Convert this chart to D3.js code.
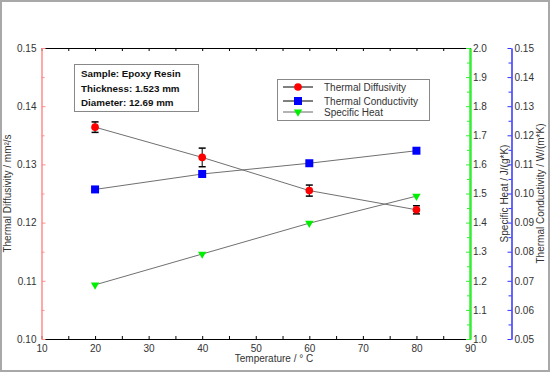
<!DOCTYPE html>
<html><head><meta charset="utf-8">
<script src="https://cdn.jsdelivr.net/npm/d3@7"></script>
<style>
body{margin:0;background:#fff;}
svg{display:block;font-family:"Liberation Sans",Arial,sans-serif;}
</style></head>
<body>
<svg id="c" width="551" height="373"></svg>
<script>
const temps = [20, 40, 60, 80];
const diffusivity = [0.1364, 0.1312, 0.1255, 0.1222];
const diffusivityErr = [0.0009, 0.0016, 0.00095, 0.0007];
const conductivity = [0.1014, 0.1067, 0.1104, 0.1147];
const specificHeat = [1.186, 1.292, 1.398, 1.491];
const seriesNames = ["Thermal Diffusivity", "Thermal Conductivity", "Specific Heat"];
const sampleInfo = ["Sample: Epoxy Resin", "Thickness: 1.523 mm", "Diameter: 12.69 mm"];
const xTicks = [10, 20, 30, 40, 50, 60, 70, 80, 90];
const xMinor = [15, 25, 35, 45, 55, 65, 75, 85];
const yLeftTicks = [0.10, 0.11, 0.12, 0.13, 0.14, 0.15];
const yLeftMinor = [0.105, 0.115, 0.125, 0.135, 0.145];
const yGreenTicks = [1.0, 1.1, 1.2, 1.3, 1.4, 1.5, 1.6, 1.7, 1.8, 1.9, 2.0];
const yGreenMinor = [1.05, 1.15, 1.25, 1.35, 1.45, 1.55, 1.65, 1.75, 1.85, 1.95];
const yBlueTicks = [0.05, 0.06, 0.07, 0.08, 0.09, 0.10, 0.11, 0.12, 0.13, 0.14, 0.15];
const yBlueMinor = [0.055, 0.065, 0.075, 0.085, 0.095, 0.105, 0.115, 0.125, 0.135, 0.145];

const L = 41.5, R = 470, T = 48, B = 339, BX = 511.5;
const svg = d3.select("#c");
const x = d3.scaleLinear().domain([10, 90]).range([L, R]);
const yL = d3.scaleLinear().domain([0.10, 0.15]).range([B, T]);
const yG = d3.scaleLinear().domain([1.0, 2.0]).range([B, T]);
const yB = d3.scaleLinear().domain([0.05, 0.15]).range([B, T]);

svg.append("rect").attr("x", 1).attr("y", 1).attr("width", 548).attr("height", 370)
  .attr("fill", "#fff").attr("stroke", "#a8a8a8").attr("stroke-width", 2);

function styleAxis(g, color, width) {
  g.selectAll("path.domain").attr("stroke", color).attr("stroke-width", width || 1);
  g.selectAll(".tick line").attr("stroke", color);
  g.selectAll(".tick text").attr("fill", "#333").attr("font-size", 10).attr("font-family", "Liberation Sans, Arial, sans-serif");
}

// top border
const gTop = svg.append("g").attr("transform", `translate(0,${T})`)
  .call(d3.axisTop(x).tickValues(xTicks.concat(xMinor)).tickSize(-3).tickSizeOuter(0).tickFormat(""));
styleAxis(gTop, "#000");
// bottom axis
const gBot = svg.append("g").attr("transform", `translate(0,${B})`)
  .call(d3.axisBottom(x).tickValues(xTicks).tickSize(-3).tickSizeOuter(0).tickPadding(6).tickFormat(d3.format("d")));
styleAxis(gBot, "#000");
const gBotMinor = svg.append("g").attr("transform", `translate(0,${B})`)
  .call(d3.axisBottom(x).tickValues(xMinor).tickSize(-3).tickSizeOuter(0).tickFormat(""));
styleAxis(gBotMinor, "#000");
gBotMinor.select("path.domain").remove();

// left axis
const gLeft = svg.append("g").attr("transform", `translate(${L},0)`)
  .call(d3.axisLeft(yL).tickValues(yLeftTicks).tickSize(-4).tickSizeOuter(0).tickPadding(5).tickFormat(d3.format(".2f")));
styleAxis(gLeft, "#ff8c8c");
const gLeftMinor = svg.append("g").attr("transform", `translate(${L},0)`)
  .call(d3.axisLeft(yL).tickValues(yLeftMinor).tickSize(-3).tickSizeOuter(0).tickFormat(""));
styleAxis(gLeftMinor, "#ff8c8c");

// green axis
const gGreen = svg.append("g").attr("transform", `translate(${R},0)`)
  .call(d3.axisRight(yG).tickValues(yGreenTicks).tickSize(-4).tickSizeOuter(0).tickPadding(3).tickFormat(d3.format(".1f")));
styleAxis(gGreen, "#33ee33", 2);
const gGreenMinor = svg.append("g").attr("transform", `translate(${R},0)`)
  .call(d3.axisRight(yG).tickValues(yGreenMinor).tickSize(-3).tickSizeOuter(0).tickFormat(""));
styleAxis(gGreenMinor, "#33ee33", 2);

// blue axis
const gBlue = svg.append("g").attr("transform", `translate(${BX},0)`)
  .call(d3.axisRight(yB).tickValues(yBlueTicks).tickSize(-4).tickSizeOuter(0).tickPadding(3).tickFormat(d3.format(".2f")));
styleAxis(gBlue, "#3333ff");
const gBlueMinor = svg.append("g").attr("transform", `translate(${BX},0)`)
  .call(d3.axisRight(yB).tickValues(yBlueMinor).tickSize(-3).tickSizeOuter(0).tickFormat(""));
styleAxis(gBlueMinor, "#3333ff");

// axis titles
const tf = "#333";
svg.append("text").attr("transform", `translate(11,${(T + B) / 2}) rotate(-90)`)
  .attr("text-anchor", "middle").attr("font-size", 10).attr("fill", tf).text("Thermal Diffusivity / mm²/s");
svg.append("text").attr("transform", `translate(507.5,${(T + B) / 2}) rotate(-90)`)
  .attr("text-anchor", "middle").attr("font-size", 10).attr("fill", tf).text("Specific Heat / J/(g*K)");
svg.append("text").attr("transform", `translate(544,${(T + B) / 2}) rotate(-90)`)
  .attr("text-anchor", "middle").attr("font-size", 10).attr("fill", tf).text("Thermal Conductivity / W/(m*K)");
svg.append("text").attr("x", 274).attr("y", 362).attr("text-anchor", "middle")
  .attr("font-size", 10).attr("fill", tf).text("Temperature / ° C");

// lines
const lineCol = "#707070";
const mk = (ys) => d3.line().x((d, i) => x(temps[i])).y((d) => ys(d));
svg.append("path").datum(diffusivity).attr("d", mk(yL)).attr("fill", "none").attr("stroke", lineCol);
svg.append("path").datum(conductivity).attr("d", mk(yB)).attr("fill", "none").attr("stroke", lineCol);
svg.append("path").datum(specificHeat).attr("d", mk(yG)).attr("fill", "none").attr("stroke", lineCol);

// error bars
const eb = svg.append("g").attr("stroke", "#000").attr("stroke-width", 1);
temps.forEach((t, i) => {
  const cx = x(t), y0 = yL(diffusivity[i] - diffusivityErr[i]), y1 = yL(diffusivity[i] + diffusivityErr[i]);
  eb.append("line").attr("x1", cx).attr("x2", cx).attr("y1", y0).attr("y2", y1);
  eb.append("line").attr("x1", cx - 3.5).attr("x2", cx + 3.5).attr("y1", y0).attr("y2", y0).attr("stroke-width", 1.5);
  eb.append("line").attr("x1", cx - 3.5).attr("x2", cx + 3.5).attr("y1", y1).attr("y2", y1).attr("stroke-width", 1.5);
});

// markers
const circ = d3.symbol().type(d3.symbolCircle).size(46);
const sq = d3.symbol().type(d3.symbolSquare).size(64);
const tri = d3.symbol().type(d3.symbolTriangle).size(30);
svg.append("g").selectAll("path").data(diffusivity).join("path")
  .attr("transform", (d, i) => `translate(${x(temps[i])},${yL(d)})`).attr("d", circ).attr("fill", "#ff0000");
svg.append("g").selectAll("path").data(conductivity).join("path")
  .attr("transform", (d, i) => `translate(${x(temps[i])},${yB(d)})`).attr("d", sq).attr("fill", "#0000ff");
svg.append("g").selectAll("path").data(specificHeat).join("path")
  .attr("transform", (d, i) => `translate(${x(temps[i])},${yG(d)}) rotate(180)`).attr("d", tri).attr("fill", "#00ee00");

// info box
svg.append("rect").attr("x", 74.5).attr("y", 64.5).attr("width", 124).attr("height", 47)
  .attr("fill", "#fff").attr("stroke", "#888");
svg.append("g").selectAll("text").data(sampleInfo).join("text")
  .attr("x", 81).attr("y", (d, i) => 74 + i * 14.2).attr("dy", "0.35em")
  .attr("font-size", 9.8).attr("font-weight", "bold").attr("fill", "#111").text(d => d);

// legend
svg.append("rect").attr("x", 277.5).attr("y", 79.5).attr("width", 152).attr("height", 41)
  .attr("fill", "#fff").attr("stroke", "#888");
const legY = [87, 101, 112];
const legLine = ["#000", "#000", "#666"];
const legSym = [circ, sq, tri];
const legFill = ["#ff0000", "#0000ff", "#00ee00"];
seriesNames.forEach((n, i) => {
  svg.append("line").attr("x1", 283).attr("x2", 313).attr("y1", legY[i]).attr("y2", legY[i]).attr("stroke", legLine[i]);
  svg.append("path").attr("d", legSym[i]).attr("fill", legFill[i])
    .attr("transform", `translate(298,${legY[i]})` + (i === 2 ? " rotate(180)" : ""));
  svg.append("text").attr("x", 324).attr("y", legY[i]).attr("dy", "0.35em")
    .attr("font-size", 10).attr("fill", "#333").text(n);
});
</script>
</body></html>
